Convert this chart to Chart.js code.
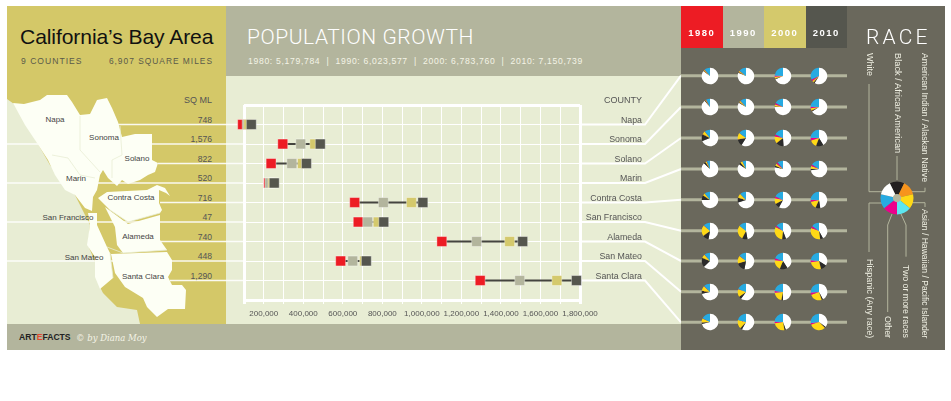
<!DOCTYPE html>
<html>
<head>
<meta charset="utf-8">
<script src="https://cdn.jsdelivr.net/npm/chart.js@4/dist/chart.umd.min.js"></script>
<style>
  html, body { margin: 0; padding: 0; background: #fff; width: 951px; height: 401px; overflow: hidden; }
  body { font-family: "Liberation Sans", Arial, sans-serif; position: relative; }
  .box { position: absolute; }
  canvas { position: absolute; display: block; }
  svg { position: absolute; left: 0; top: 0; }
  .t { position: absolute; white-space: nowrap; transform: translateY(-50%); line-height: 1; }
  .r { transform: translate(-100%, -50%); }
  .c { transform: translate(-50%, -50%); }
  .v { position: absolute; writing-mode: vertical-rl; white-space: nowrap; color: #efefe2; line-height: 1; transform: translateX(-50%); }
</style>
</head>
<body>
<div class="box" style="left:7px;top:6px;width:219px;height:318px;background:#d4c868"></div>
<div class="box" style="left:226px;top:6px;width:455px;height:70px;background:#b3b59d"></div>
<div class="box" style="left:226px;top:76px;width:455px;height:248px;background:#e8edd4"></div>
<div class="box" style="left:7px;top:324px;width:674px;height:26px;background:#b3b59d"></div>
<div class="box" style="left:681px;top:48px;width:166px;height:302px;background:#6a685c"></div>
<div class="box" style="left:847px;top:6px;width:98px;height:344px;background:#6a685c"></div>
<div class="box" style="left:681px;top:6px;width:41.5px;height:42px;background:#ed1c24"></div>
<div class="box" style="left:722.5px;top:6px;width:41.5px;height:42px;background:#b3b59d"></div>
<div class="box" style="left:764px;top:6px;width:41.5px;height:42px;background:#d4c96c"></div>
<div class="box" style="left:805.5px;top:6px;width:41.5px;height:42px;background:#55564e"></div>

<svg id="art" width="951" height="401" xmlns="http://www.w3.org/2000/svg">
  <polygon fill="#e8edd4" points="7,99 14,104 30,130 50,165 75,195 90,225 88,245 95,262 100,287 103,293 117,307 137,310 140,324 7,324"/>
  <g id="links"></g>
  <g fill="#fdfff5">
    <polygon points="13,103 24,104 40,100 47,95 67,95 72,102 80,115 90,114 97,100 107,98 112,108 118,122 122,137 135,134 152,134 152,160 158,163 155,172 148,175 140,180 128,184 122,180 117,186 108,178 103,170 100,175 97,190 93,197 92,211 85,208 75,195 65,190 55,175 48,160 35,140 25,125"/>
    <polygon points="107,192 147,190 157,185 165,188 170,196 166,193 159,190 159,203 162,210 160,213 128,222 110,210 105,205 98,198"/>
    <polygon points="105,207 128,224 160,215 160,240 167,250 123,253 117,245 115,227"/>
    <polygon points="111,254 167,252 172,260 172,270 168,277 172,285 182,285 186,290 185,309 168,309 157,317 147,307 143,298 125,287 115,273"/>
    <polygon points="88,213 97,213 97,225 107,247 110,253 113,278 100,289 95,277 95,257 87,245 90,225"/>
  </g>
  <g fill="none" stroke="#e8edd4" stroke-width="0.8">
    <polyline points="80,116 80,150 100,172"/>
    <polyline points="120,126 122,155 112,160 112,178"/>
    <polyline points="52,155 68,158 80,175 95,178"/>
    <polyline points="110,210 128,222 160,213"/>
    <polyline points="107,247 123,253 167,250"/>
    <polyline points="110,253 113,278"/>
  </g>
  <g id="keyLines" fill="none" stroke="#b3b59d" stroke-width="1">
    <polyline points="869,84 869,191.7 882,191.7"/>
    <polyline points="897,156 897,180"/>
    <polyline points="925,187.7 925,191.7 912,191.7"/>
    <polyline points="925,207 925,202.7 912,202.7"/>
    <polyline points="869,252 869,203 882,203"/>
    <polyline points="887.7,312 887.7,225 892,214"/>
    <polyline points="906,256.7 906,225 901,214"/>
  </g>
</svg>

<canvas id="growth" width="455" height="248" style="left:226px;top:76px;width:455px;height:248px"></canvas>
<div id="pies"></div>
<div id="labels"></div>

<script>
const counties = ['Napa', 'Sonoma', 'Solano', 'Marin', 'Contra Costa', 'San Francisco', 'Alameda', 'San Mateo', 'Santa Clara'];
const sqMiles = ['748', '1,576', '822', '520', '716', '47', '740', '448', '1,290'];
const years = ['1980', '1990', '2000', '2010'];
const yearColors = ['#ed1c24', '#b3b59d', '#d4c96c', '#55564e'];

const pop1980 = [93000, 296000, 237000, 225000, 660000, 678000, 1101000, 589000, 1295000];
const pop1990 = [116000, 387000, 342000, 231000, 805000, 726000, 1277000, 650000, 1495000];
const pop2000 = [124000, 458000, 396000, 247000, 947000, 779000, 1444000, 710000, 1683000];
const pop2010 = [137000, 486000, 416000, 253000, 1005000, 807000, 1510000, 719000, 1782000];

const xTicks = [200000, 400000, 600000, 800000, 1000000, 1200000, 1400000, 1600000, 1800000];

// slice order: white, black, american indian, asian, two or more, other, hispanic
const raceColors = ['#ffffff', '#2b2b2b', '#f7941d', '#ffd916', '#5ce6f0', '#ec008c', '#27aae1'];
const napaRace = [[85, .7, 1.5, 1, 0, .5, 11], [80, 1, 1, 2, 0, .3, 14], [69, 1, 1, 3, 0, 2.5, 24], [59, 2, 1, 3, 0, 3, 32]];
const sonomaRace = [[88, 1, 1, 1, 0, .5, 7.5], [83, 1, 1, 2.5, 0, .5, 11.5], [75, 1, 1, 3, 0, 3, 17], [66, 1.5, 1, 4, 0, 3, 24.5]];
const solanoRace = [[69, 13, 1, 6, 0, .5, 10.5], [59, 13, 1, 12, 0, .5, 14.5], [49, 15, 1, 13, 0, 4, 18], [41, 14, .5, 14, 0, 5, 24.5]];
const marinRace = [[87, 3.5, .5, 2.5, 0, .5, 6], [85, 4, .3, 4, 0, .3, 7], [78, 3, .3, 4.5, 0, 3, 11], [73, 2.5, .3, 5.5, 0, 3, 16]];
const contraCostaRace = [[75, 9, .5, 4.5, 0, .3, 10.7], [70, 9, .5, 8, 0, .3, 12], [58, 9, .5, 11, 0, 3.5, 18], [47.5, 9, .5, 14.5, 0, 4, 24.5]];
const sanFranciscoRace = [[53, 12, .5, 21, 0, .5, 13], [47, 10.5, .3, 28, 0, .2, 14], [44, 7.5, .3, 31, 0, 3, 14], [42, 5.5, .3, 33, 0, 4, 15]];
const alamedaRace = [[63, 18, .5, 7, 0, .5, 11], [53, 17, .5, 15, 0, .5, 14], [41, 15, .3, 20, 0, 4, 19.5], [34, 12, .3, 26, 0, 4, 23.5]];
const sanMateoRace = [[72, 6, .5, 9, 0, .5, 12.5], [60, 5, .3, 15, 0, .3, 19], [50, 3, .3, 20, 0, 3.5, 23], [42, 2.5, .3, 24.5, 0, 4, 26]];
const santaClaraRace = [[71, 3, .5, 7.5, 0, .5, 17.5], [58, 3.5, .3, 17, 0, .2, 21], [44, 2.5, .3, 25, 0, 3, 24], [35, 2.3, .3, 32, 0, 3, 27]];
const raceByCounty = [napaRace, sonomaRace, solanoRace, marinRace, contraCostaRace, sanFranciscoRace, alamedaRace, sanMateoRace, santaClaraRace];

// key wheel runs clockwise from black
const keyColors = ['#231f20', '#f7941d', '#ffd916', '#5ce6f0', '#ec008c', '#27aae1', '#ffffff'];
const keyShares = [1, 1, 1, 1, 1, 1, 1];

Chart.defaults.animation = false;
Chart.defaults.font.family = '"Liberation Sans", Arial, sans-serif';

const popByYear = [pop1980, pop1990, pop2000, pop2010];
const rows = counties.map((c, i) => i + 1);

const lineSets = counties.map((c, i) => ({
  type: 'line',
  data: popByYear.map(p => ({ x: p[i], y: rows[i] })),
  borderColor: '#44443f',
  borderWidth: 2,
  pointRadius: 0,
  clip: false,
  order: 10
}));

const squareSets = years.map((y, i) => ({
  type: 'line',
  label: y,
  data: popByYear[i].map((v, j) => ({ x: v, y: rows[j] })),
  showLine: false,
  pointStyle: 'rect',
  pointRadius: 7,
  pointBackgroundColor: yearColors[i],
  pointBorderColor: 'rgba(255,255,255,0.45)',
  pointBorderWidth: 0.8,
  clip: false,
  order: 3 - i
}));

const growth = new Chart(document.getElementById('growth'), {
  data: { datasets: [...squareSets, ...lineSets] },
  options: {
    responsive: false,
    layout: { padding: { left: 18, right: 101, top: 29, bottom: 0 } },
    plugins: { legend: { display: false }, tooltip: { enabled: false } },
    scales: {
      x: {
        type: 'linear',
        min: 100000,
        max: 1800000,
        afterFit: s => { s.height = 24; },
        border: { display: false },
        grid: {
          color: '#fff',
          tickColor: '#fff',
          tickLength: 4,
          lineWidth: c => (c.index === 0 || c.index === 17) ? 3 : 1
        },
        ticks: {
          stepSize: 100000,
          autoSkip: false,
          maxRotation: 0,
          padding: 5,
          color: '#555',
          font: { size: 8 },
          callback: v => xTicks.includes(v) ? v.toLocaleString('en-US') : ''
        }
      },
      y: {
        type: 'linear',
        min: 0,
        max: 10,
        reverse: true,
        display: true,
        afterFit: s => { s.width = 0; },
        border: { display: false },
        grid: {
          color: '#fff',
          drawTicks: false,
          lineWidth: c => (c.index === 0 || c.index === 10) ? 3 : 1
        },
        ticks: { display: false, stepSize: 1 }
      }
    }
  }
});

// links from the map, through the plot, out to the pie rows
const pieRowY = [75.7, 107, 138, 169, 199.7, 230.7, 261, 291.7, 322.3];
const pieColX = [710, 746.4, 782.8, 819.2];
const linkStart = [118, 7, 158, 7, 160, 7, 160, 7, 170];
const labelTop = growth.canvas.offsetTop;
const rowY = rows.map(r => growth.scales.y.getPixelForValue(r) + labelTop);
const frameRight = growth.chartArea.right + growth.canvas.offsetLeft;
const frameLeft = growth.chartArea.left + growth.canvas.offsetLeft;

let links = '';
rowY.forEach((y, i) => {
  links += `<line x1="${linkStart[i]}" y1="${y}" x2="${frameLeft}" y2="${y}" stroke="#fff" stroke-width="1.5" opacity="0.9"/>`;
  links += `<polyline points="${frameRight},${y} 645,${y} 681,${pieRowY[i]}" fill="none" stroke="#fff" stroke-width="2"/>`;
  links += `<line x1="681" y1="${pieRowY[i]}" x2="847" y2="${pieRowY[i]}" stroke="#b3b59d" stroke-width="3"/>`;
});
document.getElementById('links').innerHTML = links;

const pieHost = document.getElementById('pies');
function addPie(cx, cy, size, radius, data, colors, opts) {
  const cv = document.createElement('canvas');
  cv.width = size;
  cv.height = size;
  cv.style.cssText = `left:${cx - size / 2}px;top:${cy - size / 2}px;width:${size}px;height:${size}px`;
  pieHost.appendChild(cv);
  new Chart(cv, {
    type: opts.cutout ? 'doughnut' : 'pie',
    data: { datasets: [{ data, backgroundColor: colors, borderWidth: 0 }] },
    options: Object.assign({
      responsive: false,
      radius,
      plugins: { legend: { display: false }, tooltip: { enabled: false } }
    }, opts)
  });
}

raceByCounty.forEach((countyRows, r) => {
  countyRows.forEach((shares, c) => {
    addPie(pieColX[c], pieRowY[r], 20, 8.3, shares, raceColors, {});
  });
});

// key wheel
const hole = document.createElement('div');
hole.className = 'box';
hole.style.cssText = 'left:892px;top:192.5px;width:10px;height:10px;border-radius:50%;background:#b3b59d';
pieHost.appendChild(hole);
addPie(897, 197.5, 38, 16.5, keyShares, keyColors, { cutout: '25%', rotation: -25.7 });

// text
const host = document.getElementById('labels');
function text(str, x, y, size, color, cls, extra) {
  const d = document.createElement('div');
  d.className = 't ' + (cls || '');
  d.textContent = str;
  d.style.cssText = `left:${x}px;top:${y}px;font-size:${size}px;color:${color};${extra || ''}`;
  host.appendChild(d);
  return d;
}

text('California\u2019s Bay Area', 20, 37, 21.1, '#111', '', 'letter-spacing:-0.1px');
text('9 COUNTIES', 21, 60.5, 8.6, '#5a5a4a', '', 'letter-spacing:1px');
text('6,907 SQUARE MILES', 213, 60.5, 8.4, '#5a5a4a', 'r', 'letter-spacing:1px');
text('POPULATION GROWTH', 247, 37, 21, '#fff', '', 'font-family:Roboto;font-weight:300;letter-spacing:0.55px');
text('1980: 5,179,784  |  1990: 6,023,577  |  2000: 6,783,760  |  2010: 7,150,739', 248, 60.5, 8.6, '#f4f4e6', '', 'letter-spacing:0.68px;white-space:pre');
text('SQ ML', 212, 100, 9, '#555', 'r');
text('COUNTY', 642, 100, 9, '#555', 'r');
years.forEach((y, i) => text(y, 701.8 + i * 41.5, 33, 9.5, '#fff', 'c', 'font-weight:bold;letter-spacing:1.5px'));
text('RACE', 866, 37, 21, '#fff', '', 'font-family:Roboto;font-weight:300;letter-spacing:3.2px');

const mapLabelX = [55, 104, 137, 76, 131, 68, 138, 84, 143];
const mapLabelY = [120, 138, 159, 179, 198, 218, 237, 258, 277];
counties.forEach((c, i) => {
  text(c, mapLabelX[i], mapLabelY[i], 8, '#444', 'c');
  text(sqMiles[i], 212, rowY[i] - 5, 8.6, '#555', 'r');
  text(c, 642, rowY[i] - 5, 8.8, '#555', 'r');
});

const foot = text('', 19, 337, 8.6, '#222', '', 'font-weight:bold');
foot.innerHTML = 'ART<span style="color:#e2492f">E</span>FACTS';
text('\u00a9 by Diana Moy', 76, 338, 8.5, '#f4f4e6', '', 'font-family:\'DejaVu Serif\';font-style:italic;');

// race key labels, read top to bottom
const keyLabels = ['White', 'Black / African American', 'American Indian / Alaskan Native', 'Asian / Hawaiian / Pacific Islander', 'Two or more races', 'Other', 'Hispanic (Any race)'];
const keyX = [869, 897.3, 925, 925, 906, 887.7, 869];
const keyTop = [53, 53, 53, null, null, null, null];
const keySize = [9, 9.3, 8.8, 8.6, 8.8, 8.8, 9.1];
keyLabels.forEach((lab, i) => {
  const d = document.createElement('div');
  d.className = 'v';
  d.textContent = lab;
  d.style.left = keyX[i] + 'px';
  d.style.fontSize = keySize[i] + 'px';
  if (keyTop[i] !== null) d.style.top = keyTop[i] + 'px';
  else d.style.bottom = (401 - 338) + 'px';
  host.appendChild(d);
});
</script>
</body>
</html>
